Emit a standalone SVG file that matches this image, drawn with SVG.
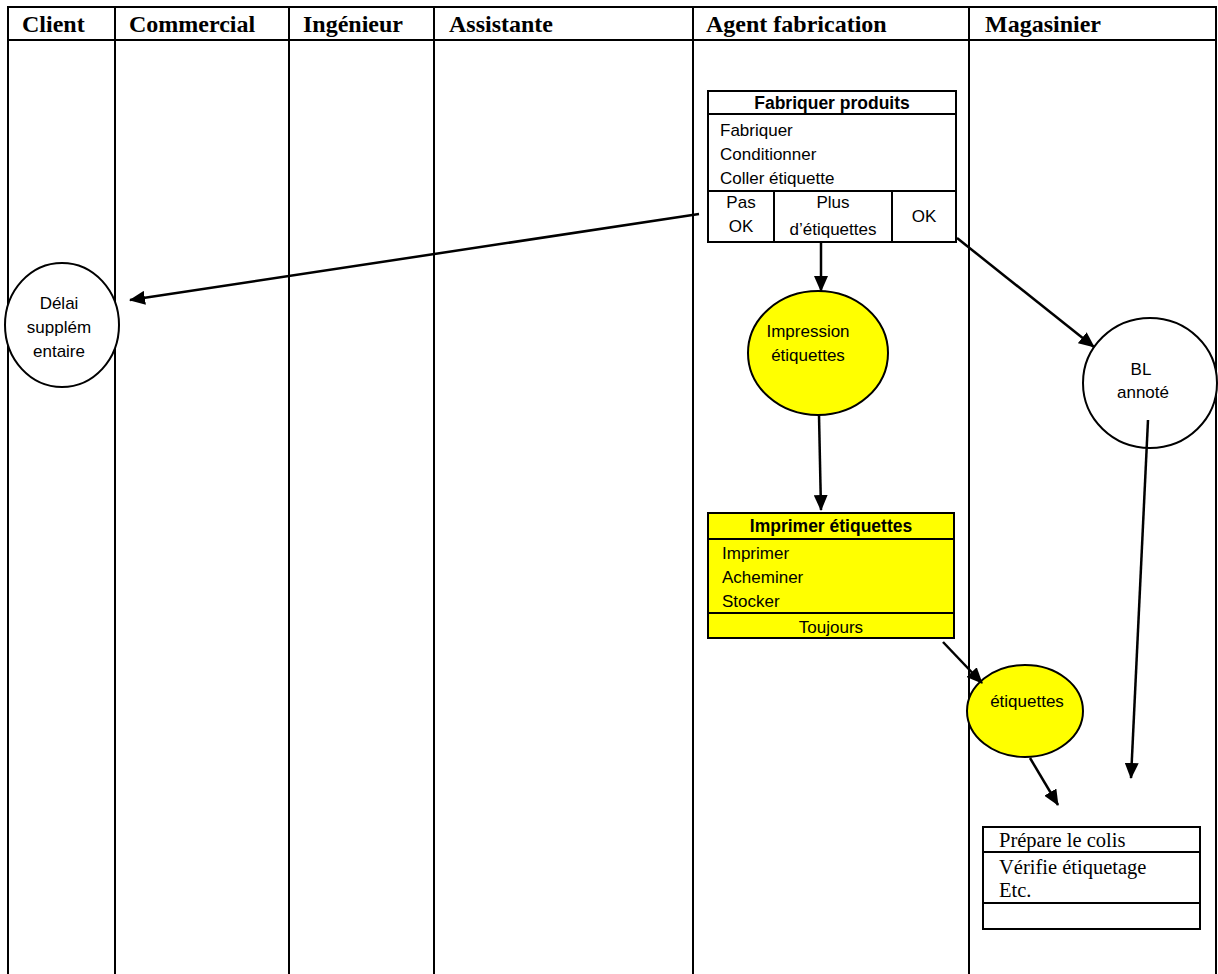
<svg xmlns="http://www.w3.org/2000/svg" width="1218" height="974" viewBox="0 0 1218 974">
<style>
.grid{stroke:#000;stroke-width:2;fill:none}
.hdr{font-family:"Liberation Serif",serif;font-weight:bold;font-size:24px;fill:#000}
.box{stroke:#000;stroke-width:2}
.t{font-family:"Liberation Sans",Arial,sans-serif;font-size:17px;fill:#000}
.tb{font-family:"Liberation Sans",Arial,sans-serif;font-size:17.5px;font-weight:bold;fill:#000}
.ts{font-family:"Liberation Serif",serif;font-size:20.5px;fill:#000}
.conn{stroke:#000;stroke-width:2.5;fill:none;marker-end:url(#arr)}
</style>
<defs>
<marker id="arr" markerWidth="16" markerHeight="14" refX="15" refY="7" orient="auto" markerUnits="userSpaceOnUse">
<path d="M0,0 L16,7 L0,14 z" fill="#000"/>
</marker>
</defs>
<rect width="1218" height="974" fill="#fff"/>
<g id="lanes">
<line class="grid" x1="7" y1="7" x2="1217" y2="7"/>
<line class="grid" x1="8" y1="40" x2="1216" y2="40"/>
<line class="grid" x1="8" y1="6" x2="8" y2="974"/>
<line class="grid" x1="115" y1="7" x2="115" y2="974"/>
<line class="grid" x1="289" y1="7" x2="289" y2="974"/>
<line class="grid" x1="434" y1="7" x2="434" y2="974"/>
<line class="grid" x1="693" y1="7" x2="693" y2="974"/>
<line class="grid" x1="969" y1="7" x2="969" y2="974"/>
<line class="grid" x1="1216" y1="6" x2="1216" y2="974"/>
<text class="hdr" x="22" y="32">Client</text>
<text class="hdr" x="129" y="32">Commercial</text>
<text class="hdr" x="303" y="32">Ingénieur</text>
<text class="hdr" x="449" y="32">Assistante</text>
<text class="hdr" x="706" y="32">Agent fabrication</text>
<text class="hdr" x="985" y="32">Magasinier</text>
</g>
<g id="fabriquer">
<rect class="box" x="708" y="91" width="248" height="151" fill="#fff"/>
<line class="box" x1="708" y1="114" x2="956" y2="114"/>
<line class="box" x1="708" y1="191" x2="956" y2="191"/>
<line class="box" x1="774" y1="191" x2="774" y2="242"/>
<line class="box" x1="892" y1="191" x2="892" y2="242"/>
<text class="tb" x="832" y="109" text-anchor="middle">Fabriquer produits</text>
<text class="t" x="720" y="136">Fabriquer</text>
<text class="t" x="720" y="160">Conditionner</text>
<text class="t" x="720" y="184">Coller étiquette</text>
<text class="t" x="741" y="208" text-anchor="middle">Pas</text>
<text class="t" x="741" y="232" text-anchor="middle">OK</text>
<text class="t" x="833" y="208" text-anchor="middle">Plus</text>
<text class="t" x="833" y="235" text-anchor="middle">d’étiquettes</text>
<text class="t" x="924" y="222" text-anchor="middle">OK</text>
</g>
<g id="delai">
<ellipse cx="62" cy="325" rx="57" ry="62" fill="#fff" stroke="#000" stroke-width="2"/>
<text class="t" x="59" y="309" text-anchor="middle">Délai</text>
<text class="t" x="59" y="333" text-anchor="middle">supplém</text>
<text class="t" x="59" y="357" text-anchor="middle">entaire</text>
</g>
<g id="impression">
<ellipse cx="818" cy="353" rx="70" ry="62" fill="#ffff00" stroke="#000" stroke-width="2"/>
<text class="t" x="808" y="337" text-anchor="middle">Impression</text>
<text class="t" x="808" y="361" text-anchor="middle">étiquettes</text>
</g>
<g id="imprimer">
<rect class="box" x="708" y="513" width="246" height="125" fill="#ffff00"/>
<line class="box" x1="708" y1="539" x2="954" y2="539"/>
<line class="box" x1="708" y1="613" x2="954" y2="613"/>
<text class="tb" x="831" y="532" text-anchor="middle">Imprimer étiquettes</text>
<text class="t" x="722" y="559">Imprimer</text>
<text class="t" x="722" y="583">Acheminer</text>
<text class="t" x="722" y="607">Stocker</text>
<text class="t" x="831" y="633" text-anchor="middle">Toujours</text>
</g>
<g id="bl">
<ellipse cx="1150" cy="383" rx="67" ry="65" fill="#fff" stroke="#000" stroke-width="2"/>
<text class="t" x="1141" y="375" text-anchor="middle">BL</text>
<text class="t" x="1143" y="398" text-anchor="middle">annoté</text>
</g>
<g id="etiquettes">
<ellipse cx="1025" cy="711" rx="58" ry="46" fill="#ffff00" stroke="#000" stroke-width="2"/>
<text class="t" x="1027" y="707" text-anchor="middle">étiquettes</text>
</g>
<g id="prepare">
<rect class="box" x="983" y="827" width="217" height="102" fill="#fff"/>
<line class="box" x1="983" y1="852" x2="1200" y2="852"/>
<line class="box" x1="983" y1="903" x2="1200" y2="903"/>
<text class="ts" x="999" y="847">Prépare le colis</text>
<text class="ts" x="999" y="874">Vérifie étiquetage</text>
<text class="ts" x="999" y="897">Etc.</text>
</g>
<g id="connectors">
<line class="conn" x1="699" y1="214" x2="130" y2="300"/>
<line class="conn" x1="821" y1="242" x2="821" y2="291"/>
<line class="conn" x1="819" y1="415" x2="821" y2="510"/>
<line class="conn" x1="957" y1="238" x2="1094" y2="347"/>
<line class="conn" x1="943" y1="642" x2="982" y2="683"/>
<line class="conn" x1="1148" y1="420" x2="1131" y2="778"/>
<line class="conn" x1="1030" y1="758" x2="1058" y2="805"/>
</g>
</svg>
